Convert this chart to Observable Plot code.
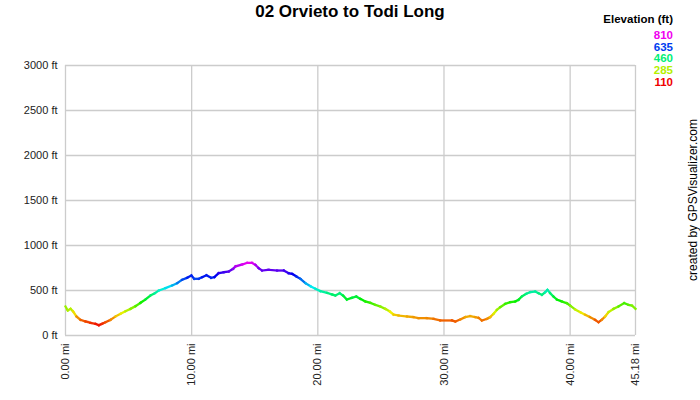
<!DOCTYPE html>
<html>
<head>
<meta charset="utf-8">
<script src="https://cdn.jsdelivr.net/npm/d3@7"></script>
<script src="https://cdn.jsdelivr.net/npm/@observablehq/plot@0.6"></script>
<style>
  html, body { margin: 0; padding: 0; background: #fff; }
  body { width: 700px; height: 400px; position: relative; overflow: hidden; font-family: "Liberation Sans", Arial, sans-serif; }
  #chart { position: absolute; left: 0; top: 0; }
  .title { position: absolute; left: 0; width: 700px; top: 2px; text-align: center; font-weight: bold; font-size: 17px; color: #000; }
  .legend { position: absolute; right: 27px; top: 14px; text-align: right; font-weight: bold; font-size: 11.5px; line-height: 11.8px; }
  .legend .head { color: #000; margin-bottom: 4px; }
  .credit { position: absolute; left: 693px; top: 200px; transform: translate(-50%, -50%) rotate(-90deg); white-space: nowrap; font-size: 12px; color: #000; }
</style>
</head>
<body>
<div id="chart"></div>
<div class="title">02 Orvieto to Todi Long</div>
<div class="legend" id="legend"></div>
<div class="credit">created by GPSVisualizer.com</div>
<script>
// distance along the track (mi)
const dist = [0, 0.18, 0.4, 0.6, 0.87, 1.19, 1.58, 1.98, 2.38, 2.64, 2.9, 3.17, 3.56, 3.96, 4.36, 4.75, 5.15, 5.55, 5.94, 6.34, 6.73, 7.08, 7.4, 7.92, 8.45, 8.85, 9.24, 9.64, 9.98, 10.2, 10.56, 10.83, 11.17, 11.54, 11.8, 12.14, 12.54, 12.94, 13.28, 13.47, 14.0, 14.39, 14.79, 15.05, 15.31, 15.58, 16.1, 16.77, 17.3, 17.69, 17.96, 18.3, 18.62, 19.02, 19.41, 19.81, 20.2, 20.73, 21.13, 21.39, 21.73, 22.0, 22.3, 22.7, 23.05, 23.37, 23.76, 24.16, 24.55, 24.95, 25.35, 25.7, 26.0, 26.4, 27.06, 27.58, 27.98, 28.64, 29.17, 29.7, 30.63, 30.9, 31.29, 31.68, 32.08, 32.48, 32.74, 33.0, 33.4, 33.66, 33.93, 34.19, 34.46, 34.85, 35.25, 35.64, 35.9, 36.17, 36.51, 36.83, 37.23, 37.49, 37.76, 38.02, 38.2, 38.42, 38.68, 38.95, 39.35, 39.74, 40.0, 40.4, 40.8, 41.19, 41.58, 41.98, 42.25, 42.5, 42.77, 43.04, 43.43, 43.83, 44.28, 44.62, 44.9, 45.18];
// elevation (ft)
const elev = [322, 278, 296, 267, 211, 174, 156, 141, 130, 115, 130, 148, 174, 211, 241, 270, 296, 326, 363, 400, 444, 470, 500, 526, 556, 581, 619, 641, 667, 630, 630, 648, 670, 641, 648, 692, 703, 711, 741, 767, 789, 807, 807, 785, 748, 722, 730, 722, 722, 692, 685, 656, 630, 581, 548, 519, 493, 474, 456, 444, 470, 444, 400, 419, 433, 407, 378, 363, 341, 322, 296, 267, 233, 222, 211, 204, 193, 193, 185, 167, 167, 156, 178, 204, 215, 204, 196, 167, 185, 204, 241, 285, 315, 352, 370, 378, 396, 433, 463, 481, 489, 470, 452, 481, 507, 470, 433, 400, 378, 359, 333, 289, 259, 230, 204, 174, 148, 174, 211, 259, 296, 322, 359, 341, 333, 296];
const xTicks = [0, 10, 20, 30, 40, 45.18];
const yTicks = [0, 500, 1000, 1500, 2000, 2500, 3000];
const legendValues = [810, 635, 460, 285, 110];

const segs = dist.slice(1).map((d, i) => ({
  x1: dist[i], y1: elev[i], x2: d, y2: elev[i + 1], e: (elev[i] + elev[i + 1]) / 2
}));

const hueInterp = t => d3.hsl(300 * t, 1, 0.47).formatHex();

const plot = Plot.plot({
  width: 700,
  height: 400,
  marginLeft: 65,
  marginRight: 65,
  marginTop: 65,
  marginBottom: 65,
  style: { fontFamily: "Liberation Sans, Arial, sans-serif", fontSize: "11px", color: "#222", background: "#fff" },
  x: { domain: [0, 45.18], ticks: xTicks, tickFormat: d => d.toFixed(2) + " mi", tickRotate: -90, tickSize: 0, tickPadding: 8, label: null },
  y: { domain: [0, 3000], ticks: yTicks, tickFormat: d => d + " ft", tickSize: 0, tickPadding: 8, label: null },
  color: { type: "linear", domain: [110, 810], interpolate: hueInterp },
  marks: [
    Plot.ruleY(yTicks, { y: d => d, stroke: "#ccc", strokeWidth: 1.3 }),
    Plot.ruleX(xTicks, { x: d => d, stroke: "#ccc", strokeWidth: 1.3 }),
    Plot.link(segs, { x1: "x1", y1: "y1", x2: "x2", y2: "y2", stroke: "e", strokeWidth: 2.3, strokeLinecap: "square" })
  ]
});
document.getElementById("chart").appendChild(plot);

const colorScale = plot.scale("color");
const leg = document.getElementById("legend");
const head = document.createElement("div");
head.className = "head";
head.textContent = "Elevation (ft)";
leg.appendChild(head);
for (const v of legendValues) {
  const el = document.createElement("div");
  el.textContent = String(v);
  el.style.color = colorScale.apply(v);
  leg.appendChild(el);
}
</script>
</body>
</html>
